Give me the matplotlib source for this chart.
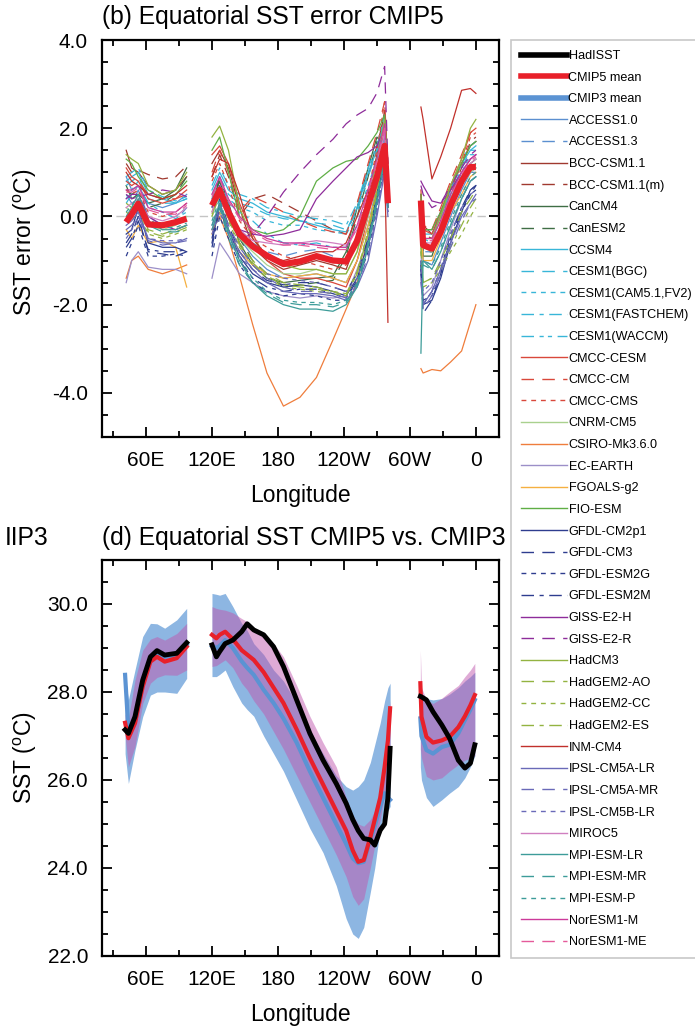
#!/usr/bin/env python3
"""
Equatorial SST error (CMIP5 models) and equatorial SST CMIP5 vs. CMIP3.
Two stacked panels sharing one long model legend on the right.
"""

import matplotlib
matplotlib.use("Agg")
import matplotlib.pyplot as plt
from matplotlib.lines import Line2D
from matplotlib.ticker import MultipleLocator, FixedLocator

plt.rcParams['font.family'] = ['Liberation Sans', 'DejaVu Sans']
plt.rcParams['mathtext.fontset'] = 'custom'
plt.rcParams['mathtext.rm'] = 'Liberation Sans'

# ---------------------------------------------------------------------------
# Panel (b): SST error of each CMIP5 model (degC), three ocean basins
# ---------------------------------------------------------------------------
LON_IO = [42, 47, 53, 62, 75, 87, 97]
LON_PO = [120, 127, 135, 145, 157, 170, 185, 200, 215, 230, 242, 252, 262, 270, 277, 280]
LON_AO = [310, 312, 320, 328, 337, 347, 355, 360]

# multi-model mean error (thick red)
MEAN_ERR = [-0.13, 0.05, 0.29, -0.18, -0.2, -0.13, -0.05,
            0.25, 0.6, 0.1, -0.4, -0.68, -0.89, -1.08, -1.02, -0.9, -1.0, -1.02, -0.55, 0.25, 0.9, 1.6, 0.3,
            0.36, -0.65, -0.73, -0.35, 0.25, 0.8, 1.12, 1.12]

ACCESS1_0 = [0.9, 0.6, 0.7, 0.3, 0.2, 0.3, 0.5,
             0.4, 0.9, 0.3, -0.5, -0.9, -1.2, -1.4, -1.35, -1.3, -1.4, -1.5, -1.0, -0.2, 0.7, 1.9, 0.5,
             0.2, -1.0, -1.1, -0.6, 0.0, 0.6, 1.0, 1.1]
ACCESS1_3 = [0.5, 0.3, 0.6, 0.0, -0.2, -0.1, 0.2,
             0.3, 0.8, 0.2, -0.3, -0.6, -0.8, -0.9, -0.8, -0.75, -0.9, -1.0, -0.6, 0.2, 0.9, 1.7, 0.6,
             0.0, -0.8, -0.8, -0.4, 0.2, 0.7, 1.0, 1.0]
BCC_CSM1_1 = [1.5, 1.1, 1.0, 0.7, 0.5, 0.6, 0.9,
              1.2, 1.5, 1.1, 0.2, -0.7, -1.0, -1.2, -1.1, -1.0, -1.1, -1.2, -0.5, 0.5, 1.4, 2.4, 1.2,
              0.5, -0.2, -0.4, 0.0, 0.6, 1.2, 1.6, 1.7]
BCC_CSM1_1M = [1.2, 1.0, 1.05, 0.95, 0.85, 0.9, 1.15,
               0.9, 1.4, 0.9, 0.0, 0.4, 0.5, 0.3, 0.1, -0.1, -0.3, -0.4, 0.2, 0.9, 1.6, 2.3, 1.0,
               0.3, -0.4, -0.5, -0.1, 0.5, 1.1, 1.7, 1.8]
CANCM4 = [0.7, 0.4, 0.5, 0.3, 0.4, 0.6, 1.1,
          0.3, 0.8, 0.2, -0.6, -1.1, -1.4, -1.5, -1.45, -1.4, -1.35, -0.8, 0.2, 1.1, 1.8, 1.6, 0.9,
          0.0, -0.9, -0.9, -0.3, 0.4, 0.9, 1.2, 1.3]
CANESM2 = [0.6, 0.5, 0.6, 0.2, 0.3, 0.5, 0.9,
           0.2, 0.9, 0.3, -0.5, -1.0, -1.3, -1.6, -1.55, -1.5, -1.45, -0.9, 0.0, 0.9, 1.7, 1.5, 0.7,
           -0.1, -0.8, -0.8, -0.3, 0.4, 0.8, 1.1, 1.2]
CCSM4 = [0.8, 0.9, 1.0, 0.5, 0.4, 0.3, 0.4,
         0.6, 1.0, 0.6, 0.4, 0.3, 0.1, 0.0, -0.1, -0.2, -0.3, -0.35, 0.2, 1.0, 1.5, 2.2, 0.9,
         0.2, -0.4, -0.4, 0.0, 0.6, 1.2, 1.5, 1.6]
CESM1_BGC = [0.7, 0.8, 0.9, 0.4, 0.3, 0.3, 0.4,
             0.5, 0.9, 0.5, 0.3, 0.2, 0.05, -0.05, -0.1, -0.15, -0.2, -0.3, 0.1, 0.9, 1.5, 2.1, 0.8,
             0.1, -0.5, -0.5, -0.1, 0.5, 1.1, 1.5, 1.5]
CESM1_CAM5 = [0.4, 0.6, 0.8, 0.2, 0.1, 0.0, 0.2,
              0.4, 0.7, 0.4, 0.2, 0.1, -0.1, -0.2, -0.2, -0.3, -0.35, -0.4, 0.0, 0.7, 1.3, 2.0, 0.6,
              0.0, -0.6, -0.6, -0.2, 0.4, 1.0, 1.4, 1.4]
CESM1_FASTCHEM = [0.9, 1.0, 1.1, 0.6, 0.45, 0.35, 0.45,
                  0.7, 1.1, 0.7, 0.5, 0.4, 0.2, 0.1, 0.0, -0.05, -0.1, -0.2, 0.3, 1.1, 1.6, 2.3, 1.0,
                  0.3, -0.3, -0.3, 0.1, 0.7, 1.3, 1.6, 1.7]
CESM1_WACCM = [0.3, 0.5, 0.7, 0.3, 0.1, -0.05, 0.1,
               0.2, 0.6, 0.3, 0.1, -0.1, -0.4, -0.6, -0.65, -0.6, -0.7, -0.7, -0.2, 0.6, 1.2, 1.9, 0.5,
               0.0, -0.5, -0.6, -0.2, 0.5, 1.0, 1.3, 1.4]
CMCC_CESM = [1.1, 0.9, 0.8, 0.4, 0.3, 0.4, 0.6,
             1.4, 1.6, 1.2, 0.3, -0.4, -1.0, -1.3, -1.4, -1.4, -1.5, -1.6, -1.0, 0.0, 1.0, 2.0, 0.8,
             0.6, -0.3, -0.4, 0.1, 0.7, 1.3, 1.9, 2.0]
CMCC_CM = [0.8, 0.7, 0.8, 0.5, 0.4, 0.4, 0.5,
           1.0, 1.5, 1.0, 0.1, 0.45, 0.3, 0.1, -0.1, -0.25, -0.35, -0.4, 0.3, 1.2, 1.9, 2.6, 1.1,
           0.4, -0.2, -0.3, 0.2, 0.8, 1.4, 1.9, 2.0]
CMCC_CMS = [0.6, 0.5, 0.6, 0.1, 0.0, 0.1, 0.3,
            0.8, 1.2, 0.7, -0.1, -0.5, -0.7, -0.9, -1.0, -1.1, -1.2, -1.1, -0.4, 0.6, 1.5, 2.6, 1.0,
            0.5, -0.3, -0.3, 0.1, 0.6, 1.2, 1.8, 1.9]
CNRM_CM5 = [0.2, 0.1, 0.4, -0.2, -0.3, -0.2, 0.0,
            0.0, 0.5, 0.0, -0.5, -0.8, -1.1, -1.3, -1.3, -1.2, -1.3, -1.3, -0.8, 0.0, 0.8, 1.6, 0.4,
            0.0, -0.7, -0.8, -0.4, 0.2, 0.7, 1.0, 1.1]
CSIRO_MK3_6 = [-1.4, -1.0, -0.9, -1.2, -1.3, -1.2, -1.1,
               -0.3, 0.0, -0.5, -1.35, -2.45, -3.55, -4.3, -4.1, -3.65, -2.8, -2.1, -1.5, -0.5, 0.5, 1.4, 0.4,
               -3.45, -3.55, -3.47, -3.5, -3.3, -3.05, -2.4, -2.0]
EC_EARTH = [-1.5, -1.0, -0.8, -1.15, -1.2, -1.2, -1.3,
            -1.4, -0.6, -0.9, -1.3, -1.5, -1.7, -1.8, -1.85, -1.8, -1.85, -1.8, -1.2, -0.5, 0.4, 1.3, 0.3,
            -0.8, -1.8, -1.6, -1.0, -0.3, 0.4, 0.8, 0.9]
FGOALS_G2 = [-0.3, -0.5, -0.2, -0.6, -0.55, -0.7, -1.6,
             -0.4, 0.1, -0.3, -0.8, -1.1, -1.3, -1.4, -1.35, -1.3, -1.4, -1.5, -1.0, -0.2, 0.6, 1.5, 0.3,
             -0.2, -1.0, -1.0, -0.5, 0.1, 0.5, 0.9, 1.0]
FIO_ESM = [1.3, 1.2, 0.9, 0.6, 0.4, 0.5, 0.8,
           1.5, 1.8, 1.0, 0.0, -0.3, -0.4, -0.3, 0.0, 0.8, 1.1, 1.25, 1.3, 1.6, 1.9, 2.3, 1.0,
           0.5, -0.3, -0.3, 0.1, 0.7, 1.2, 1.6, 1.7]
GFDL_CM2P1 = [-0.4, -0.3, 0.2, -0.6, -0.7, -0.7, -0.8,
              -0.6, 0.3, -0.3, -0.9, -1.3, -1.5, -1.6, -1.55, -1.6, -1.7, -1.8, -1.4, -0.6, 0.4, 1.4, 0.2,
              -1.2, -2.0, -1.9, -1.4, -0.6, 0.1, 0.6, 0.7]
GFDL_CM3 = [-0.6, -0.4, 0.0, -0.8, -0.85, -0.9, -0.8,
            -0.5, 0.4, -0.2, -0.8, -1.2, -1.45, -1.55, -1.5, -1.5, -1.6, -1.7, -1.3, -0.5, 0.5, 1.5, 0.3,
            -1.0, -2.2, -1.9, -1.3, -0.5, 0.2, 0.6, 0.7]
GFDL_ESM2G = [-0.9, -0.6, -0.2, -0.9, -0.9, -0.85, -0.9,
              -0.9, 0.0, -0.5, -1.1, -1.5, -1.7, -1.8, -1.75, -1.8, -1.9, -1.9, -1.5, -0.8, 0.2, 1.2, 0.1,
              -1.3, -1.9, -1.8, -1.3, -0.5, 0.1, 0.5, 0.6]
GFDL_ESM2M = [-0.7, -0.5, -0.1, -0.75, -0.8, -0.8, -0.75,
              -0.7, 0.2, -0.4, -1.0, -1.4, -1.6, -1.7, -1.65, -1.65, -1.75, -1.85, -1.45, -0.7, 0.3, 1.3, 0.2,
              -1.1, -2.0, -1.7, -1.2, -0.4, 0.2, 0.5, 0.7]
GISS_E2_H = [0.4, 0.5, 0.5, 0.0, -0.2, -0.3, -0.2,
             0.3, 0.7, 0.2, -0.3, -0.4, -0.45, -0.4, -0.3, 0.4, 0.8, 1.1, 1.35, 1.45, 1.6, 2.0, 1.0,
             0.8, 0.7, 0.35, 0.3, 0.6, 1.0, 1.3, 1.4]
GISS_E2_R = [0.5, 0.4, 0.45, 0.5, 0.6, 0.55, 0.45,
             0.2, 0.6, 0.0, -0.5, -0.4, 0.0, 0.55, 1.0, 1.4, 1.75, 2.1, 2.3, 2.45, 2.8, 3.4, 1.2,
             0.7, 0.5, 0.2, 0.3, 0.7, 1.1, 1.4, 1.5]
HADCM3 = [1.4, 1.3, 1.2, 0.7, 0.5, 0.6, 1.0,
          1.8, 2.05, 1.5, 0.2, -0.5, -0.9, -1.1, -1.2, -1.2, -1.3, -1.3, -0.8, 0.3, 1.3, 2.2, 0.8,
          0.3, -0.5, -0.5, 0.0, 0.7, 1.3, 2.0, 2.2]
HADGEM2_AO = [0.3, 0.2, 0.3, -0.3, -0.4, -0.3, -0.2,
              0.1, 0.6, 0.0, -0.6, -1.0, -1.3, -1.5, -1.55, -1.6, -1.7, -1.8, -1.3, -0.4, 0.6, 1.5, 0.5,
              -0.6, -1.5, -1.4, -1.0, -0.5, 0.1, 0.4, 0.6]
HADGEM2_CC = [0.0, -0.1, 0.1, -0.4, -0.5, -0.4, -0.3,
              0.0, 0.5, -0.1, -0.7, -1.1, -1.4, -1.6, -1.65, -1.7, -1.75, -1.8, -1.3, -0.3, 0.6, 1.4, 0.4,
              -0.8, -1.6, -1.5, -1.2, -0.8, -0.4, 0.0, 0.2]
HADGEM2_ES = [0.1, 0.0, 0.2, -0.35, -0.45, -0.35, -0.25,
              0.05, 0.55, -0.05, -0.65, -1.05, -1.35, -1.55, -1.6, -1.65, -1.7, -1.75, -1.25, -0.35, 0.55, 1.45, 0.45,
              -0.7, -1.5, -1.4, -1.1, -0.7, -0.2, 0.2, 0.4]
INM_CM4 = [1.0, 0.8, 0.7, 0.5, 0.4, 0.5, 0.7,
           0.9, 1.3, 1.2, 0.5, -0.5, -0.9, -1.0, -0.9, -0.8, -0.8, -0.6, 0.0, 0.6, 1.0, 1.2, -2.4,
           2.48, 2.2, 0.85, 1.35, 2.0, 2.86, 2.9, 2.79]
IPSL_CM5A_LR = [-0.2, -0.1, 0.1, -0.5, -0.6, -0.6, -0.5,
                -0.3, 0.2, -0.3, -0.8, -1.2, -1.5, -1.7, -1.75, -1.75, -1.8, -1.9, -1.6, -1.0, 0.0, 1.0, 0.0,
                -1.5, -2.0, -1.7, -1.2, -0.6, 0.0, 0.3, 0.5]
IPSL_CM5A_MR = [-0.3, -0.2, 0.0, -0.55, -0.65, -0.6, -0.55,
                -0.2, 0.3, -0.2, -0.7, -1.1, -1.4, -1.6, -1.7, -1.7, -1.75, -1.85, -1.55, -0.9, 0.1, 1.1, 0.1,
                -1.4, -2.1, -1.8, -1.3, -0.7, -0.1, 0.3, 0.4]
IPSL_CM5B_LR = [-0.5, -0.3, 0.0, -0.5, -0.55, -0.55, -0.5,
                -0.4, 0.1, -0.4, -0.9, -1.2, -1.3, -1.4, -1.45, -1.5, -1.6, -1.7, -1.4, -0.7, 0.2, 1.2, 0.2,
                -1.0, -1.7, -1.5, -1.0, -0.4, 0.2, 0.5, 0.6]
MIROC5 = [0.2, 0.3, 0.4, 0.0, -0.1, 0.0, 0.2,
          0.1, 0.6, 0.1, -0.3, -0.55, -0.6, -0.65, -0.6, -0.55, -0.6, -0.65, -0.3, 0.4, 1.1, 1.9, 0.7,
          0.0, -0.6, -0.6, -0.2, 0.4, 0.9, 1.2, 1.3]
MPI_ESM_LR = [0.0, 0.2, 0.5, -0.1, -0.3, -0.3, -0.2,
              -0.2, 0.3, -0.4, -1.0, -1.5, -1.8, -2.0, -2.1, -2.1, -2.15, -2.0, -1.6, -0.7, 0.3, 1.3, 0.2,
              -3.1, -1.0, -1.2, -0.8, -0.2, 0.4, 0.8, 0.9]
MPI_ESM_MR = [-0.1, 0.1, 0.4, -0.2, -0.35, -0.35, -0.3,
              -0.3, 0.2, -0.5, -1.1, -1.5, -1.75, -1.95, -2.0, -2.0, -2.05, -1.95, -1.55, -0.6, 0.4, 1.4, 0.3,
              -1.2, -1.1, -1.2, -0.8, -0.2, 0.4, 0.8, 0.9]
MPI_ESM_P = [0.1, 0.25, 0.5, -0.05, -0.25, -0.25, -0.15,
             -0.1, 0.4, -0.3, -0.95, -1.4, -1.7, -1.9, -1.95, -1.95, -2.0, -1.9, -1.5, -0.6, 0.4, 1.4, 0.3,
             -1.1, -1.0, -1.1, -0.7, -0.1, 0.5, 0.9, 1.0]
NORESM1_M = [0.6, 0.6, 0.7, 0.2, 0.1, 0.1, 0.3,
             0.5, 0.9, 0.4, 0.0, -0.3, -0.5, -0.6, -0.6, -0.65, -0.7, -0.7, -0.2, 0.6, 1.3, 2.1, 0.8,
             0.2, -0.5, -0.5, -0.1, 0.5, 1.0, 1.3, 1.4]
NORESM1_ME = [0.55, 0.55, 0.65, 0.15, 0.05, 0.05, 0.25,
              0.45, 0.85, 0.35, -0.05, -0.35, -0.55, -0.65, -0.65, -0.7, -0.75, -0.75, -0.25, 0.55, 1.25, 2.0, 0.7,
              0.15, -0.55, -0.55, -0.15, 0.45, 0.95, 1.25, 1.35]

MODEL_NAMES = ['ACCESS1.0', 'ACCESS1.3', 'BCC-CSM1.1', 'BCC-CSM1.1(m)', 'CanCM4', 'CanESM2',
               'CCSM4', 'CESM1(BGC)', 'CESM1(CAM5.1,FV2)', 'CESM1(FASTCHEM)', 'CESM1(WACCM)',
               'CMCC-CESM', 'CMCC-CM', 'CMCC-CMS', 'CNRM-CM5', 'CSIRO-Mk3.6.0', 'EC-EARTH',
               'FGOALS-g2', 'FIO-ESM', 'GFDL-CM2p1', 'GFDL-CM3', 'GFDL-ESM2G', 'GFDL-ESM2M',
               'GISS-E2-H', 'GISS-E2-R', 'HadCM3', 'HadGEM2-AO', 'HadGEM2-CC', 'HadGEM2-ES',
               'INM-CM4', 'IPSL-CM5A-LR', 'IPSL-CM5A-MR', 'IPSL-CM5B-LR', 'MIROC5',
               'MPI-ESM-LR', 'MPI-ESM-MR', 'MPI-ESM-P', 'NorESM1-M', 'NorESM1-ME']
MODEL_ERRORS = [ACCESS1_0, ACCESS1_3, BCC_CSM1_1, BCC_CSM1_1M, CANCM4, CANESM2,
                CCSM4, CESM1_BGC, CESM1_CAM5, CESM1_FASTCHEM, CESM1_WACCM,
                CMCC_CESM, CMCC_CM, CMCC_CMS, CNRM_CM5, CSIRO_MK3_6, EC_EARTH,
                FGOALS_G2, FIO_ESM, GFDL_CM2P1, GFDL_CM3, GFDL_ESM2G, GFDL_ESM2M,
                GISS_E2_H, GISS_E2_R, HADCM3, HADGEM2_AO, HADGEM2_CC, HADGEM2_ES,
                INM_CM4, IPSL_CM5A_LR, IPSL_CM5A_MR, IPSL_CM5B_LR, MIROC5,
                MPI_ESM_LR, MPI_ESM_MR, MPI_ESM_P, NORESM1_M, NORESM1_ME]

# ---------------------------------------------------------------------------
# Panel (d): equatorial SST (degC), observations and ensemble means / spread
# ---------------------------------------------------------------------------
SST_LON_IO = [41, 44, 50, 57, 64, 70, 77, 88, 97]
SST_LON_PO = [120, 124, 127, 132, 139, 147, 152, 158, 167, 176, 185, 197, 209, 221,
              233, 242, 248, 253, 258, 264, 268, 273, 277, 280, 282]
SST_LON_AO = [309.5, 310.5, 315, 321, 329, 336, 344, 350, 355, 359]

HADISST = [27.14, 27.06, 27.44, 28.27, 28.8, 28.94, 28.84, 28.88, 29.12,
           29.07, 28.8, 28.92, 29.1, 29.18, 29.37, 29.55, 29.41, 29.3, 29.03, 28.58, 27.82, 27.06, 26.45,
           25.92, 25.47, 25.1, 24.85, 24.67, 24.64, 24.52, 24.86, 25.0, 25.6, 26.72,
           27.9, 27.89, 27.82, 27.55, 27.25, 26.95, 26.45, 26.27, 26.38, 26.8]
CMIP5_MEAN = [27.3, 26.95, 27.29, 28.12, 28.69, 28.8, 28.69, 28.77, 29.03,
              29.3, 29.22, 29.3, 29.37, 29.2, 28.95, 28.85, 28.73, 28.45, 28.1, 27.75, 27.15, 26.5, 25.9,
              25.3, 24.85, 24.4, 24.14, 24.18, 24.7, 25.1, 25.6, 26.3, 26.9, 27.63,
              28.2, 27.44, 26.98, 26.85, 26.9, 26.98, 27.2, 27.45, 27.7, 27.93]
CMIP3_MEAN = [28.39, 27.14, 27.35, 28.2, 28.73, 28.86, 28.8, 28.84, 29.07,
              29.05, 29.0, 29.05, 29.18, 29.0, 28.7, 28.55, 28.39, 28.05, 27.75, 27.4, 26.85, 26.2, 25.6,
              25.0, 24.55, 24.22, 24.11, 24.14, 24.64, 24.95, 25.4, 25.7, 25.6, 25.55,
              27.4, 27.0, 26.68, 26.6, 26.75, 26.8, 27.06, 27.36, 27.6, 27.82]
CMIP5_HIGH = [27.5, 27.4, 28.27, 28.95, 29.2, 29.26, 29.18, 29.33, 29.56,
              29.94, 29.9, 29.88, 29.86, 29.8, 29.67, 29.6, 29.45, 29.3, 29.1, 28.8, 28.15, 27.45, 26.85,
              26.3, 25.6, 25.2, 25.0, 24.95, 25.1, 25.3, 25.8, 26.5, 27.3, 27.8,
              28.95, 28.1, 27.82, 27.74, 27.86, 28.0, 28.15, 28.35, 28.5, 28.65]
CMIP5_LOW = [27.0, 26.3, 26.76, 27.74, 28.2, 28.33, 28.39, 28.38, 28.5,
             28.58, 28.6, 28.65, 28.73, 28.55, 28.2, 28.05, 27.8, 27.5, 27.1, 26.7, 26.1, 25.5, 24.9,
             24.3, 23.8, 23.35, 23.15, 23.3, 24.0, 24.5, 25.1, 25.7, 26.2, 26.45,
             26.7, 26.5, 26.08, 26.0, 26.05, 26.2, 26.35, 26.45, 26.5, 26.55]
CMIP3_HIGH = [28.4, 27.82, 28.5, 29.26, 29.56, 29.55, 29.45, 29.64, 29.9,
              30.24, 30.22, 30.2, 30.24, 29.94, 29.56, 29.4, 29.1, 28.85, 28.5, 28.25, 27.74, 27.14, 26.6,
              26.1, 25.85, 25.77, 25.85, 26.0, 26.4, 26.8, 27.3, 27.8, 28.1, 28.2,
              27.9, 27.85, 27.85, 27.82, 27.85, 27.95, 28.1, 28.25, 28.35, 28.45]
CMIP3_LOW = [26.6, 25.92, 26.68, 27.44, 27.93, 28.0, 28.0, 27.97, 28.31,
             28.35, 28.35, 28.4, 28.5, 28.12, 27.75, 27.6, 27.45, 27.0, 26.6, 26.2, 25.55, 24.9, 24.35,
             23.6, 22.85, 22.5, 22.4, 22.65, 23.45, 24.0, 24.9, 25.3, 25.3, 25.4,
             26.3, 26.0, 25.6, 25.4, 25.55, 25.7, 25.85, 26.05, 26.3, 26.55]

XTICKS = [60, 120, 180, 240, 300, 360]
XTICK_LABELS = ['60E', '120E', '180', '120W', '60W', '0']

# line styles: solid, long dash, short dash, long-short, long-short-short
SOLID = '-'
DASH = (0, (9, 6))
SHORT = (0, (3.5, 3.5))
LONG_SHORT = (0, (9, 4, 3, 4))
LONG_SHORT2 = (0, (9, 4, 3, 3, 3, 4))

MODEL_COLORS = ['#5b8fd0', '#5b8fd0', '#a0392f', '#a0392f', '#3f6e45', '#3f6e45',
                '#38b6d8', '#38b6d8', '#38b6d8', '#38b6d8', '#38b6d8',
                '#d9483b', '#d9483b', '#d9483b', '#a9d18e', '#ef7d3c', '#9c8fc8',
                '#f5b041', '#5fae45', '#2e3d8f', '#2e3d8f', '#2e3d8f', '#2e3d8f',
                '#8e2c9a', '#8e2c9a', '#93b341', '#93b341', '#93b341', '#93b341',
                '#c1302b', '#6a6ab8', '#6a6ab8', '#6a6ab8', '#d07fc0',
                '#3d9c99', '#3d9c99', '#3d9c99', '#cc3a9a', '#e55a9a']
MODEL_STYLES = [SOLID, DASH, SOLID, DASH, SOLID, DASH,
                SOLID, DASH, SHORT, LONG_SHORT, LONG_SHORT2,
                SOLID, DASH, SHORT, SOLID, SOLID, SOLID,
                SOLID, SOLID, SOLID, DASH, SHORT, LONG_SHORT,
                SOLID, DASH, SOLID, DASH, SHORT, LONG_SHORT,
                SOLID, SOLID, DASH, SHORT, SOLID,
                SOLID, DASH, SHORT, SOLID, DASH]

RED = '#e8202a'
BLUE = '#5b93d3'

# legend geometry in pixels (the legend runs off the right page edge)
LEG_LEFT, LEG_TOP = 511, 40
LEG_PAD, LEG_HANDLE = 10.0, 46.0
LEG_TEXT_RIGHT = 692
LEG_ROW_PITCH = 21.7


def basin_pieces(values, grids):
    """Split a concatenated series into (lon, values) pieces for each basin."""
    pieces = []
    start = 0
    for lon in grids:
        pieces.append((lon, values[start:start + len(lon)]))
        start += len(lon)
    return pieces


def style_axes(ax, ylim, major, ylabel):
    ax.set_xlim(20, 381)
    ax.set_ylim(*ylim)
    ax.xaxis.set_major_locator(FixedLocator(XTICKS))
    ax.set_xticklabels(XTICK_LABELS)
    ax.xaxis.set_minor_locator(FixedLocator([30, 90, 150, 210, 270, 330]))
    ax.yaxis.set_major_locator(MultipleLocator(major))
    ax.yaxis.set_minor_locator(MultipleLocator(0.5))
    ax.yaxis.set_major_formatter(plt.FuncFormatter(lambda v, p: f'{v:.1f}'))
    ax.tick_params(which='both', direction='in', top=True, right=True, width=1.3)
    ax.tick_params(which='major', length=7, labelsize=15, pad=10)
    ax.tick_params(which='minor', length=4)
    for sp in ax.spines.values():
        sp.set_linewidth(1.6)
    ax.set_xlabel('Longitude', fontsize=16.5, labelpad=10)
    ax.set_ylabel(ylabel, fontsize=16.5)


def draw_error_panel(ax):
    grids = [LON_IO, LON_PO, LON_AO]
    ax.axhline(0, color='#c4c4c4', lw=1.0, ls=(0, (6, 4)), zorder=1)
    for vals, col, ls in zip(MODEL_ERRORS, MODEL_COLORS, MODEL_STYLES):
        for lon, v in basin_pieces(vals, grids):
            ax.plot(lon, v, color=col, ls=ls, lw=0.9, zorder=2)
    for lon, v in basin_pieces(MEAN_ERR, grids):
        ax.plot(lon, v, color=RED, lw=4.5, zorder=5, solid_capstyle='butt')
    style_axes(ax, (-5, 4), 2.0, r'SST error ($^{\mathrm{o}}$C)')
    ax.yaxis.set_label_coords(-0.158, 0.49)


def draw_sst_panel(ax):
    grids = [SST_LON_IO, SST_LON_PO, SST_LON_AO]
    for (lon, lo3), (_, hi3) in zip(basin_pieces(CMIP3_LOW, grids), basin_pieces(CMIP3_HIGH, grids)):
        ax.fill_between(lon, lo3, hi3, color='#8db6e2', lw=0, zorder=1)
    for (lon, lo5), (_, hi5) in zip(basin_pieces(CMIP5_LOW, grids), basin_pieces(CMIP5_HIGH, grids)):
        ax.fill_between(lon, lo5, hi5, color='#c058ae', alpha=0.5, lw=0, zorder=2)
    for series, col, lw in [(CMIP3_MEAN, BLUE, 3.0), (CMIP5_MEAN, RED, 3.0), (HADISST, 'black', 3.5)]:
        for lon, v in basin_pieces(series, grids):
            ax.plot(lon, v, color=col, lw=lw, zorder=4)
    style_axes(ax, (22, 31), 2.0, r'SST ($^{\mathrm{o}}$C)')
    ax.yaxis.set_label_coords(-0.158, 0.5)


def build_legend(fig, handles, labels, fontsize, spacing):
    """Figure legend whose handle and padding sizes are fixed in pixels."""
    W, H = fig.bbox.width, fig.bbox.height
    em = fontsize * fig.dpi / 72.0
    leg = fig.legend(handles, labels, loc='upper left',
                     bbox_to_anchor=(LEG_LEFT / W, 1 - LEG_TOP / H), bbox_transform=fig.transFigure,
                     fontsize=fontsize, handlelength=LEG_HANDLE / em, handletextpad=1.5 / em,
                     labelspacing=spacing, borderpad=LEG_PAD / em, borderaxespad=0,
                     fancybox=False, framealpha=1)
    leg.get_frame().set_edgecolor('#c8c8c8')
    leg.get_frame().set_linewidth(1.2)
    return leg


def main():
    fig = plt.figure(figsize=(6.95, 10.29), dpi=100)
    W, H = 695.0, 1029.0

    ax_top = fig.add_axes([102 / W, 1 - 437 / H, 397 / W, 397 / H])
    ax_bot = fig.add_axes([102 / W, 1 - 956 / H, 397 / W, 396 / H])

    draw_error_panel(ax_top)
    draw_sst_panel(ax_bot)

    fig.text(102 / W, 1 - 17 / H, '(b) Equatorial SST error CMIP5', fontsize=17.7, va='center')
    fig.text(102 / W, 1 - 538 / H, '(d) Equatorial SST CMIP5 vs. CMIP3', fontsize=17.7, va='center')
    fig.text(5 / W, 1 - 538 / H, 'IIP3', fontsize=17.7, va='center')

    handles = [Line2D([], [], color='black', lw=4),
               Line2D([], [], color=RED, lw=4),
               Line2D([], [], color=BLUE, lw=4)]
    labels = ['HadISST', 'CMIP5 mean', 'CMIP3 mean']
    for name, col, ls in zip(MODEL_NAMES, MODEL_COLORS, MODEL_STYLES):
        handles.append(Line2D([], [], color=col, ls=ls, lw=1.0))
        labels.append(name)

    # first pass: measure text, then size the legend so the widest label
    # reaches the page edge and rows keep the original pitch
    fs0, ls0 = 9.0, 0.7
    leg = build_legend(fig, handles, labels, fs0, ls0)
    fig.canvas.draw()
    renderer = fig.canvas.get_renderer()
    ext = [t.get_window_extent(renderer) for t in leg.get_texts()]
    x0 = min(e.x0 for e in ext)
    x1 = max(e.x1 for e in ext)
    pitch0 = (ext[0].y0 - ext[-1].y0) / (len(ext) - 1)
    em0 = fs0 * fig.dpi / 72.0
    text_h0 = pitch0 - ls0 * em0
    fs = fs0 * (LEG_TEXT_RIGHT - x0) / (x1 - x0)
    em = fs * fig.dpi / 72.0
    spacing = (LEG_ROW_PITCH - text_h0 * fs / fs0) / em
    fig.legends.remove(leg)
    build_legend(fig, handles, labels, fs, spacing)

    fig.savefig('out.png', dpi=100)


if __name__ == "__main__":
    main()
